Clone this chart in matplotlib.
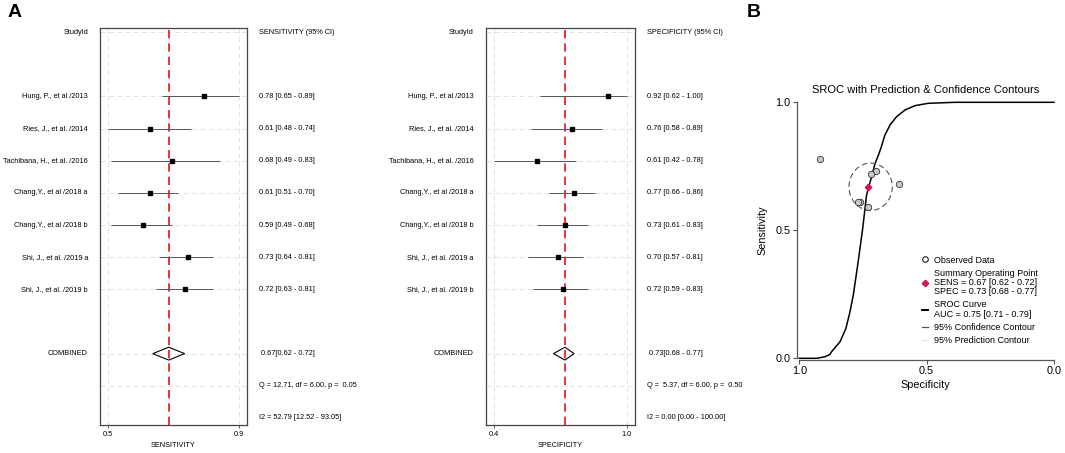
import matplotlib
matplotlib.use('Agg')
import matplotlib.pyplot as plt
import matplotlib.transforms as mtransforms
from matplotlib.patches import Ellipse, Polygon
from matplotlib.lines import Line2D

plt.rcParams['font.family'] = ['Liberation Sans', 'DejaVu Sans']

# study level data
studies = ['Hung, P., et al /2013', 'Ries, J., et al. /2014', 'Tachibana, H., et al. /2016',
           'Chang,Y., et al /2018 a', 'Chang,Y., et al /2018 b', 'Shi, J., et al. /2019 a',
           'Shi, J., et al. /2019 b']
sens = [0.78, 0.61, 0.68, 0.61, 0.59, 0.73, 0.72]
sens_lo = [0.65, 0.48, 0.49, 0.51, 0.49, 0.64, 0.63]
sens_hi = [0.89, 0.74, 0.83, 0.70, 0.68, 0.81, 0.81]
spec = [0.92, 0.76, 0.61, 0.77, 0.73, 0.70, 0.72]
spec_lo = [0.62, 0.58, 0.42, 0.66, 0.61, 0.57, 0.59]
spec_hi = [1.00, 0.89, 0.78, 0.86, 0.83, 0.81, 0.83]

# pooled estimates
sens_pool = [0.67, 0.62, 0.72]
spec_pool = [0.73, 0.68, 0.77]
sens_het = ['Q = 12.71, df = 6.00, p =  0.05', 'I2 = 52.79 [12.52 - 93.05]']
spec_het = ['Q =  5.37, df = 6.00, p =  0.50', 'I2 = 0.00 [0.00 - 100.00]']

# SROC curve (specificity, sensitivity)
sroc_spec = [1.0, 0.932, 0.90, 0.88, 0.873, 0.84, 0.817, 0.801, 0.788, 0.769, 0.751,
             0.736, 0.716, 0.703, 0.690, 0.680, 0.664, 0.644, 0.618, 0.585, 0.546,
             0.494, 0.389, 0.0]
sroc_sens = [0.0, 0.0, 0.006, 0.015, 0.026, 0.065, 0.117, 0.182, 0.247, 0.377, 0.508,
             0.638, 0.71, 0.76, 0.792, 0.820, 0.872, 0.911, 0.944, 0.970, 0.987,
             0.996, 1.0, 1.0]
conf_center = (0.72, 0.67)
conf_size = (0.17, 0.185)

W, H = 1065, 453
fig = plt.figure(figsize=(W / 100, H / 100), dpi=100)

fs = 5.3
gridc = '#dcdcdc'


def forest(rect, est, lo, hi, pool, het, header, xlab):
    ax = fig.add_axes(rect)
    tlo, thi = min(lo), max(hi)
    pad = (thi - tlo) * 0.062
    ax.set_xlim(tlo - pad, thi + pad)
    ax.set_ylim(12.22, -0.13)
    rows = list(range(2, 2 + len(est)))
    for r in [0] + rows + [10, 11]:
        ax.axhline(r, color=gridc, lw=0.6, ls=(0, (6, 4)), zorder=0)
    for t in (tlo, thi):
        ax.axvline(t, color=gridc, lw=0.6, ls=(0, (6, 4)), zorder=0)
    ax.axvline(pool[0], color='#e8101a', lw=1.2, ls=(0, (5, 3)), zorder=1)
    ax.hlines(rows, lo, hi, color='#555555', lw=0.7, zorder=2)
    ax.plot(est, rows, 's', color='black', ms=2.3, zorder=3)
    d = Polygon([(pool[1], 10), (pool[0], 9.8), (pool[2], 10), (pool[0], 10.2)],
                closed=True, fill=False, ec='black', lw=0.8, zorder=3)
    ax.add_patch(d)
    ax.set_yticks([])
    ax.set_xticks([tlo, thi])
    ax.set_xticklabels(['%.1f' % tlo, '%.1f' % thi], fontsize=fs)
    ax.tick_params(axis='x', length=2, width=0.6, pad=2, color='#444444')
    ax.set_xlabel(xlab, fontsize=fs, labelpad=3)
    for s in ax.spines.values():
        s.set_color('#444444')
        s.set_linewidth(0.9)
    tr = mtransforms.blended_transform_factory(ax.transAxes, ax.transData)
    wpx = rect[2] * W
    xl = -12 / wpx
    xr = 1 + 12 / wpx
    ax.text(xl, 0, 'StudyId', ha='right', va='center', fontsize=fs, transform=tr)
    ax.text(xr, 0, header, ha='left', va='center', fontsize=fs, transform=tr)
    for r, name, e, a, b in zip(rows, studies, est, lo, hi):
        ax.text(xl, r, name, ha='right', va='center', fontsize=fs, transform=tr)
        ax.text(xr, r, '%.2f [%.2f - %.2f]' % (e, a, b), ha='left', va='center',
                fontsize=fs, transform=tr)
    ax.text(xl, 10, 'COMBINED', ha='right', va='center', fontsize=fs, transform=tr)
    ax.text(xr + 2 / wpx, 10, '%.2f[%.2f - %.2f]' % tuple(pool), ha='left', va='center',
            fontsize=fs, transform=tr)
    ax.text(xr, 11, het[0], ha='left', va='center', fontsize=fs, transform=tr)
    ax.text(xr, 12, het[1], ha='left', va='center', fontsize=fs, transform=tr)
    return ax


forest([100 / W, 1 - 425 / H, 147 / W, 397 / H], sens, sens_lo, sens_hi, sens_pool,
       sens_het, 'SENSITIVITY (95% CI)', 'SENSITIVITY')
forest([485.7 / W, 1 - 425 / H, 149.3 / W, 397 / H], spec, spec_lo, spec_hi, spec_pool,
       spec_het, 'SPECIFICITY (95% CI)', 'SPECIFICITY')

# SROC panel
ax = fig.add_axes([796.7 / W, 1 - 360 / H, 257.6 / W, 260 / H])
ax.set_xlim(1.0102, -0.001)
ax.set_ylim(-0.0066, 1.009)
ax.plot(sroc_spec, sroc_sens, color='black', lw=1.1, clip_on=False, zorder=2,
        solid_joinstyle='round')
ax.add_patch(Ellipse(conf_center, conf_size[0], conf_size[1], fill=False,
                     ec='#555555', lw=0.8, ls=(0, (5, 3)), zorder=2))
ax.plot(spec, sens, 'o', ms=4.6, mfc='#c8c8c8', mec='#333333', mew=0.6, zorder=3)
ax.plot(spec_pool[0], sens_pool[0], 'D', ms=3.3, color='#d4145a', zorder=4)
for s in ('top', 'right'):
    ax.spines[s].set_visible(False)
ax.spines['left'].set_bounds(0, 1)
ax.spines['bottom'].set_bounds(0, 1)
for s in ('left', 'bottom'):
    ax.spines[s].set_color('#555555')
    ax.spines[s].set_linewidth(0.9)
ax.set_xticks([1.0, 0.5, 0.0])
ax.set_xticklabels(['1.0', '0.5', '0.0'])
ax.set_yticks([0.0, 0.5, 1.0])
ax.set_yticklabels(['0.0', '0.5', '1.0'])
ax.tick_params(labelsize=7.8, length=3, width=0.8, color='#555555', pad=1.5)
ax.set_xlabel('Specificity', fontsize=7.8, labelpad=3)
ax.set_ylabel('Sensitivity', fontsize=7.8, labelpad=6)
ax.set_title('SROC with Prediction & Confidence Contours', fontsize=8, pad=5)

handles = [
    Line2D([], [], ls='none', marker='o', ms=4, mfc='white', mec='black', mew=0.7),
    Line2D([], [], ls='none', marker='D', ms=3.3, color='#d4145a'),
    Line2D([], [], color='black', lw=1.4),
    Line2D([], [], color='#555555', lw=0.9),
    Line2D([], [], color='#aaaaaa', lw=0.8, ls=':'),
]
labels = ['Observed Data',
          'Summary Operating Point\nSENS = 0.67 [0.62 - 0.72]\nSPEC = 0.73 [0.68 - 0.77]',
          'SROC Curve\nAUC = 0.75 [0.71 - 0.79]',
          '95% Confidence Contour',
          '95% Prediction Contour']
leg = ax.legend(handles, labels, loc='upper left', bbox_to_anchor=(917 / W, 1 - 251 / H),
                bbox_transform=fig.transFigure, frameon=False, fontsize=6.5,
                handlelength=0.7, handletextpad=0.7, labelspacing=0.45, borderpad=0)
for t in leg.get_texts():
    t.set_linespacing(1.05)

fig.text(8 / W, 1 - 17 / H, 'A', fontsize=14, fontweight='bold', va='baseline', ha='left')
fig.text(747 / W, 1 - 17 / H, 'B', fontsize=14, fontweight='bold', va='baseline', ha='left')

fig.savefig('out.png', dpi=100)
